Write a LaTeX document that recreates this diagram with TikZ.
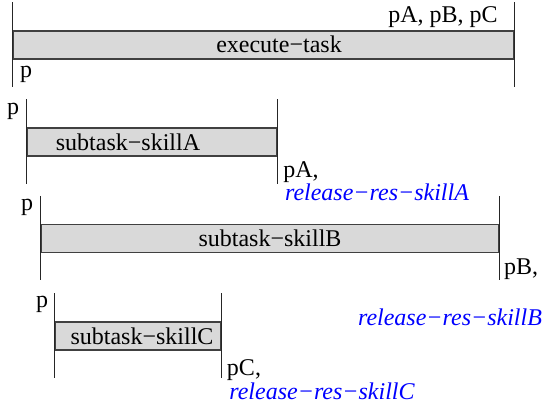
\documentclass[tikz,border=0pt]{standalone}
\usepackage{fontspec}
\setmainfont{Liberation Serif}
\usetikzlibrary{positioning}

\begin{document}
\begin{tikzpicture}[
  x=0.5pt, y=-0.5pt,
  bar/.style={rectangle, draw=black!75, fill=black!15, line width=0.6pt,
    minimum height=14pt, inner sep=0pt},
  stem/.style={black!85, line width=0.8pt},
  tasktext/.style={font=\fontsize{12}{14}\selectfont, inner sep=0pt},
  restext/.style={font=\fontsize{12}{14}\selectfont\itshape, text=blue, inner sep=0pt}
]
\useasboundingbox (0,0) rectangle (546,410);

% Bars
\node[bar, minimum width=250.5pt] (E) at (263.5,45) {};
\node[bar, minimum width=125pt] (A) at (152,142) {};
\node[bar, minimum width=229pt] (B) at (270,238.5) {};
\node[bar, minimum width=83pt] (C) at (138,336) {};

% Stems at both ends of each bar
\foreach \b in {E,A,B,C} {
  \draw[stem] ([yshift=14pt]\b.north west) -- ([yshift=-13.5pt]\b.south west);
  \draw[stem] ([yshift=14pt]\b.north east) -- ([yshift=-13.5pt]\b.south east);
}

% Bar names
\node[tasktext] (tE) at (279,44.5) {execute−task};
\node[tasktext] (tA) at (128,142) {subtask−skillA};
\node[tasktext] (tB) at (270,238.5) {subtask−skillB};
\node[tasktext] (tC) at (142,336) {subtask−skillC};

% Start labels
\node[tasktext] (sE) at (26,74) {p};
\node[tasktext] (sA) at (13,111) {p};
\node[tasktext] (sB) at (27,207) {p};
\node[tasktext] (sC) at (42,304) {p};

% End labels
\node[tasktext] (eE) at (443,17) {pA, pB, pC};
\node[tasktext] (eA) at (301,172) {pA,};
\node[tasktext] (eB) at (521,269) {pB,};
\node[tasktext] (eC) at (244,370) {pC,};

% Released resources
\node[restext] (rA) at (377,192) {release−res−skillA};
\node[restext] (rB) at (450,317) {release−res−skillB};
\node[restext] (rC) at (322,391) {release−res−skillC};

\end{tikzpicture}
\end{document}
